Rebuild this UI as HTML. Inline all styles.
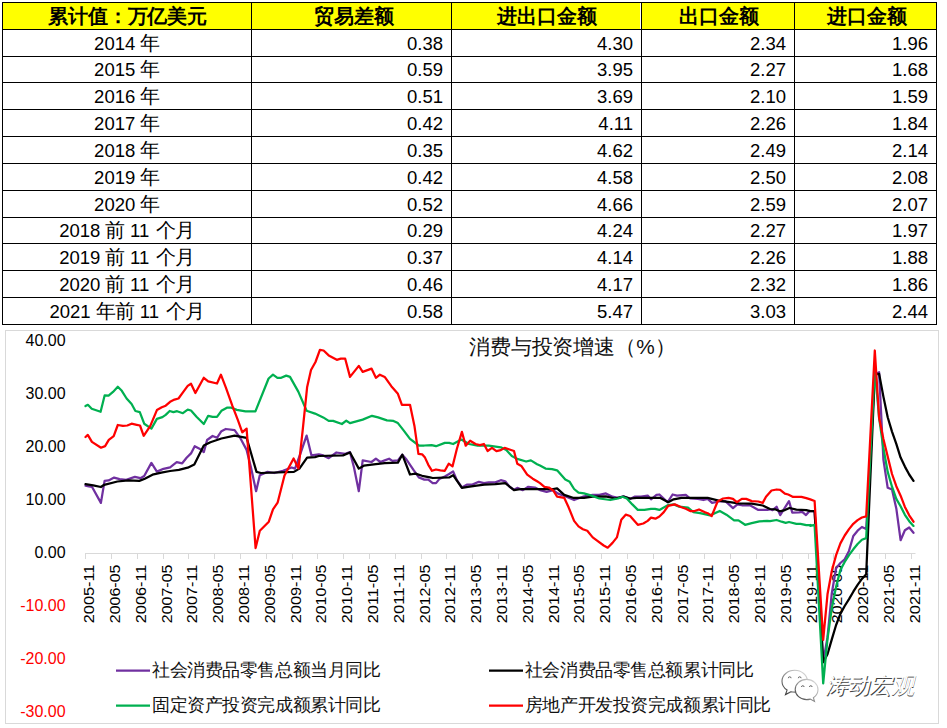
<!DOCTYPE html>
<html><head><meta charset="utf-8"><title>消费与投资增速</title>
<style>
html,body{margin:0;padding:0;background:#fff;}
body{width:947px;height:728px;position:relative;overflow:hidden;font-family:"Liberation Sans",sans-serif;}
.hl{position:absolute;height:1px;background:#000;}
.vl{position:absolute;width:1px;background:#000;}
svg{position:absolute;left:0;top:0;}
</style></head><body>

<div style="position:absolute;left:2px;top:2px;width:934px;height:27px;background:#ffff00"></div>
<div style="position:absolute;left:640px;top:3px;width:1px;height:26px;background:#fff"></div>
<div class="hl" style="left:2px;top:2px;width:935px"></div>
<div class="hl" style="left:2px;top:29px;width:935px"></div>
<div class="hl" style="left:2px;top:56px;width:935px"></div>
<div class="hl" style="left:2px;top:82px;width:935px"></div>
<div class="hl" style="left:2px;top:109px;width:935px"></div>
<div class="hl" style="left:2px;top:136px;width:935px"></div>
<div class="hl" style="left:2px;top:163px;width:935px"></div>
<div class="hl" style="left:2px;top:190px;width:935px"></div>
<div class="hl" style="left:2px;top:217px;width:935px"></div>
<div class="hl" style="left:2px;top:243px;width:935px"></div>
<div class="hl" style="left:2px;top:270px;width:935px"></div>
<div class="hl" style="left:2px;top:297px;width:935px"></div>
<div class="hl" style="left:2px;top:324px;width:935px"></div>
<div class="vl" style="left:2px;top:2px;height:323px"></div>
<div class="vl" style="left:251px;top:2px;height:323px"></div>
<div class="vl" style="left:451px;top:2px;height:323px"></div>
<div class="vl" style="left:641px;top:2px;height:323px"></div>
<div class="vl" style="left:794px;top:2px;height:323px"></div>
<div class="vl" style="left:936px;top:2px;height:323px"></div>
<svg width="947" height="330" viewBox="0 0 947 330" style="position:absolute;left:0;top:0">
<text x="48.00 67.88 87.75 107.62 127.50 147.38 167.25 187.12" y="23" font-weight="bold" font-size="20" fill="#000">累计值：万亿美元</text>
<text x="313.80 333.80 353.80 373.80" y="23" font-weight="bold" font-size="20" fill="#000">贸易差额</text>
<text x="497.30 517.30 537.30 557.30 577.30" y="23" font-weight="bold" font-size="20" fill="#000">进出口金额</text>
<text x="678.50 698.50 718.50 738.50" y="23" font-weight="bold" font-size="20" fill="#000">出口金额</text>
<text x="826.50 846.50 866.50 886.50" y="23" font-weight="bold" font-size="20" fill="#000">进口金额</text>
<text y="50" font-size="18.5" fill="#000"><tspan x="94.10">2014 </tspan><tspan x="140.40" font-size="19.5">年</tspan></text>
<text x="443" y="50" text-anchor="end" font-size="18.5" fill="#000">0.38</text>
<text x="633" y="50" text-anchor="end" font-size="18.5" fill="#000">4.30</text>
<text x="786" y="50" text-anchor="end" font-size="18.5" fill="#000">2.34</text>
<text x="928" y="50" text-anchor="end" font-size="18.5" fill="#000">1.96</text>
<text y="76" font-size="18.5" fill="#000"><tspan x="94.10">2015 </tspan><tspan x="140.40" font-size="19.5">年</tspan></text>
<text x="443" y="76" text-anchor="end" font-size="18.5" fill="#000">0.59</text>
<text x="633" y="76" text-anchor="end" font-size="18.5" fill="#000">3.95</text>
<text x="786" y="76" text-anchor="end" font-size="18.5" fill="#000">2.27</text>
<text x="928" y="76" text-anchor="end" font-size="18.5" fill="#000">1.68</text>
<text y="103" font-size="18.5" fill="#000"><tspan x="94.10">2016 </tspan><tspan x="140.40" font-size="19.5">年</tspan></text>
<text x="443" y="103" text-anchor="end" font-size="18.5" fill="#000">0.51</text>
<text x="633" y="103" text-anchor="end" font-size="18.5" fill="#000">3.69</text>
<text x="786" y="103" text-anchor="end" font-size="18.5" fill="#000">2.10</text>
<text x="928" y="103" text-anchor="end" font-size="18.5" fill="#000">1.59</text>
<text y="130" font-size="18.5" fill="#000"><tspan x="94.10">2017 </tspan><tspan x="140.40" font-size="19.5">年</tspan></text>
<text x="443" y="130" text-anchor="end" font-size="18.5" fill="#000">0.42</text>
<text x="633" y="130" text-anchor="end" font-size="18.5" fill="#000">4.11</text>
<text x="786" y="130" text-anchor="end" font-size="18.5" fill="#000">2.26</text>
<text x="928" y="130" text-anchor="end" font-size="18.5" fill="#000">1.84</text>
<text y="157" font-size="18.5" fill="#000"><tspan x="94.10">2018 </tspan><tspan x="140.40" font-size="19.5">年</tspan></text>
<text x="443" y="157" text-anchor="end" font-size="18.5" fill="#000">0.35</text>
<text x="633" y="157" text-anchor="end" font-size="18.5" fill="#000">4.62</text>
<text x="786" y="157" text-anchor="end" font-size="18.5" fill="#000">2.49</text>
<text x="928" y="157" text-anchor="end" font-size="18.5" fill="#000">2.14</text>
<text y="184" font-size="18.5" fill="#000"><tspan x="94.10">2019 </tspan><tspan x="140.40" font-size="19.5">年</tspan></text>
<text x="443" y="184" text-anchor="end" font-size="18.5" fill="#000">0.42</text>
<text x="633" y="184" text-anchor="end" font-size="18.5" fill="#000">4.58</text>
<text x="786" y="184" text-anchor="end" font-size="18.5" fill="#000">2.50</text>
<text x="928" y="184" text-anchor="end" font-size="18.5" fill="#000">2.08</text>
<text y="211" font-size="18.5" fill="#000"><tspan x="94.10">2020 </tspan><tspan x="140.40" font-size="19.5">年</tspan></text>
<text x="443" y="211" text-anchor="end" font-size="18.5" fill="#000">0.52</text>
<text x="633" y="211" text-anchor="end" font-size="18.5" fill="#000">4.66</text>
<text x="786" y="211" text-anchor="end" font-size="18.5" fill="#000">2.59</text>
<text x="928" y="211" text-anchor="end" font-size="18.5" fill="#000">2.07</text>
<text y="237" font-size="18.5" fill="#000"><tspan x="59.17">2018 </tspan><tspan x="105.47" font-size="19.5">前</tspan><tspan x="124.97"> 11 </tspan><tspan x="155.83 175.33" font-size="19.5">个月</tspan></text>
<text x="443" y="237" text-anchor="end" font-size="18.5" fill="#000">0.29</text>
<text x="633" y="237" text-anchor="end" font-size="18.5" fill="#000">4.24</text>
<text x="786" y="237" text-anchor="end" font-size="18.5" fill="#000">2.27</text>
<text x="928" y="237" text-anchor="end" font-size="18.5" fill="#000">1.97</text>
<text y="264" font-size="18.5" fill="#000"><tspan x="59.17">2019 </tspan><tspan x="105.47" font-size="19.5">前</tspan><tspan x="124.97"> 11 </tspan><tspan x="155.83 175.33" font-size="19.5">个月</tspan></text>
<text x="443" y="264" text-anchor="end" font-size="18.5" fill="#000">0.37</text>
<text x="633" y="264" text-anchor="end" font-size="18.5" fill="#000">4.14</text>
<text x="786" y="264" text-anchor="end" font-size="18.5" fill="#000">2.26</text>
<text x="928" y="264" text-anchor="end" font-size="18.5" fill="#000">1.88</text>
<text y="291" font-size="18.5" fill="#000"><tspan x="59.17">2020 </tspan><tspan x="105.47" font-size="19.5">前</tspan><tspan x="124.97"> 11 </tspan><tspan x="155.83 175.33" font-size="19.5">个月</tspan></text>
<text x="443" y="291" text-anchor="end" font-size="18.5" fill="#000">0.46</text>
<text x="633" y="291" text-anchor="end" font-size="18.5" fill="#000">4.17</text>
<text x="786" y="291" text-anchor="end" font-size="18.5" fill="#000">2.32</text>
<text x="928" y="291" text-anchor="end" font-size="18.5" fill="#000">1.86</text>
<text y="318" font-size="18.5" fill="#000"><tspan x="49.42">2021 </tspan><tspan x="95.72 115.22" font-size="19.5">年前</tspan><tspan x="134.72"> 11 </tspan><tspan x="165.58 185.08" font-size="19.5">个月</tspan></text>
<text x="443" y="318" text-anchor="end" font-size="18.5" fill="#000">0.58</text>
<text x="633" y="318" text-anchor="end" font-size="18.5" fill="#000">5.47</text>
<text x="786" y="318" text-anchor="end" font-size="18.5" fill="#000">3.03</text>
<text x="928" y="318" text-anchor="end" font-size="18.5" fill="#000">2.44</text>
</svg>
<svg width="947" height="728" viewBox="0 0 947 728">
<rect x="5.5" y="330.5" width="933" height="393" fill="#fff" stroke="#d9d9d9" stroke-width="1"/>
<text x="469.2 490.0 510.8 531.6 552.4 573.2 594.0 614.8 636.3 655.0" y="354" font-size="20.8" fill="#111">消费与投资增速（%）</text>
<text x="65.6" y="345.85" text-anchor="end" font-size="16" fill="#000">40.00</text>
<text x="65.6" y="398.85" text-anchor="end" font-size="16" fill="#000">30.00</text>
<text x="65.6" y="451.85" text-anchor="end" font-size="16" fill="#000">20.00</text>
<text x="65.6" y="504.85" text-anchor="end" font-size="16" fill="#000">10.00</text>
<text x="65.6" y="557.85" text-anchor="end" font-size="16" fill="#000">0.00</text>
<text x="65.6" y="610.85" text-anchor="end" font-size="16" fill="#ff0000">-10.00</text>
<text x="65.6" y="663.85" text-anchor="end" font-size="16" fill="#ff0000">-20.00</text>
<text x="65.6" y="716.85" text-anchor="end" font-size="16" fill="#ff0000">-30.00</text>
<line x1="85" y1="553.5" x2="915.5" y2="553.5" stroke="#d9d9d9" stroke-width="1"/>
<line x1="85.5" y1="553" x2="85.5" y2="559" stroke="#d9d9d9" stroke-width="1"/>
<text transform="translate(94.1,564.6) rotate(-90)" text-anchor="end" font-size="14.9" fill="#000" textLength="58.6" lengthAdjust="spacingAndGlyphs">2005-11</text>
<line x1="111.5" y1="553" x2="111.5" y2="559" stroke="#d9d9d9" stroke-width="1"/>
<text transform="translate(119.9,564.6) rotate(-90)" text-anchor="end" font-size="14.9" fill="#000" textLength="58.6" lengthAdjust="spacingAndGlyphs">2006-05</text>
<line x1="137.5" y1="553" x2="137.5" y2="559" stroke="#d9d9d9" stroke-width="1"/>
<text transform="translate(145.7,564.6) rotate(-90)" text-anchor="end" font-size="14.9" fill="#000" textLength="58.6" lengthAdjust="spacingAndGlyphs">2006-11</text>
<line x1="163.5" y1="553" x2="163.5" y2="559" stroke="#d9d9d9" stroke-width="1"/>
<text transform="translate(171.5,564.6) rotate(-90)" text-anchor="end" font-size="14.9" fill="#000" textLength="58.6" lengthAdjust="spacingAndGlyphs">2007-05</text>
<line x1="188.5" y1="553" x2="188.5" y2="559" stroke="#d9d9d9" stroke-width="1"/>
<text transform="translate(197.3,564.6) rotate(-90)" text-anchor="end" font-size="14.9" fill="#000" textLength="58.6" lengthAdjust="spacingAndGlyphs">2007-11</text>
<line x1="214.5" y1="553" x2="214.5" y2="559" stroke="#d9d9d9" stroke-width="1"/>
<text transform="translate(223.1,564.6) rotate(-90)" text-anchor="end" font-size="14.9" fill="#000" textLength="58.6" lengthAdjust="spacingAndGlyphs">2008-05</text>
<line x1="240.5" y1="553" x2="240.5" y2="559" stroke="#d9d9d9" stroke-width="1"/>
<text transform="translate(248.9,564.6) rotate(-90)" text-anchor="end" font-size="14.9" fill="#000" textLength="58.6" lengthAdjust="spacingAndGlyphs">2008-11</text>
<line x1="266.5" y1="553" x2="266.5" y2="559" stroke="#d9d9d9" stroke-width="1"/>
<text transform="translate(274.7,564.6) rotate(-90)" text-anchor="end" font-size="14.9" fill="#000" textLength="58.6" lengthAdjust="spacingAndGlyphs">2009-05</text>
<line x1="292.5" y1="553" x2="292.5" y2="559" stroke="#d9d9d9" stroke-width="1"/>
<text transform="translate(300.5,564.6) rotate(-90)" text-anchor="end" font-size="14.9" fill="#000" textLength="58.6" lengthAdjust="spacingAndGlyphs">2009-11</text>
<line x1="317.5" y1="553" x2="317.5" y2="559" stroke="#d9d9d9" stroke-width="1"/>
<text transform="translate(326.3,564.6) rotate(-90)" text-anchor="end" font-size="14.9" fill="#000" textLength="58.6" lengthAdjust="spacingAndGlyphs">2010-05</text>
<line x1="343.5" y1="553" x2="343.5" y2="559" stroke="#d9d9d9" stroke-width="1"/>
<text transform="translate(352.1,564.6) rotate(-90)" text-anchor="end" font-size="14.9" fill="#000" textLength="58.6" lengthAdjust="spacingAndGlyphs">2010-11</text>
<line x1="369.5" y1="553" x2="369.5" y2="559" stroke="#d9d9d9" stroke-width="1"/>
<text transform="translate(377.9,564.6) rotate(-90)" text-anchor="end" font-size="14.9" fill="#000" textLength="58.6" lengthAdjust="spacingAndGlyphs">2011-05</text>
<line x1="395.5" y1="553" x2="395.5" y2="559" stroke="#d9d9d9" stroke-width="1"/>
<text transform="translate(403.7,564.6) rotate(-90)" text-anchor="end" font-size="14.9" fill="#000" textLength="58.6" lengthAdjust="spacingAndGlyphs">2011-11</text>
<line x1="421.5" y1="553" x2="421.5" y2="559" stroke="#d9d9d9" stroke-width="1"/>
<text transform="translate(429.5,564.6) rotate(-90)" text-anchor="end" font-size="14.9" fill="#000" textLength="58.6" lengthAdjust="spacingAndGlyphs">2012-05</text>
<line x1="446.5" y1="553" x2="446.5" y2="559" stroke="#d9d9d9" stroke-width="1"/>
<text transform="translate(455.3,564.6) rotate(-90)" text-anchor="end" font-size="14.9" fill="#000" textLength="58.6" lengthAdjust="spacingAndGlyphs">2012-11</text>
<line x1="472.5" y1="553" x2="472.5" y2="559" stroke="#d9d9d9" stroke-width="1"/>
<text transform="translate(481.1,564.6) rotate(-90)" text-anchor="end" font-size="14.9" fill="#000" textLength="58.6" lengthAdjust="spacingAndGlyphs">2013-05</text>
<line x1="498.5" y1="553" x2="498.5" y2="559" stroke="#d9d9d9" stroke-width="1"/>
<text transform="translate(506.9,564.6) rotate(-90)" text-anchor="end" font-size="14.9" fill="#000" textLength="58.6" lengthAdjust="spacingAndGlyphs">2013-11</text>
<line x1="524.5" y1="553" x2="524.5" y2="559" stroke="#d9d9d9" stroke-width="1"/>
<text transform="translate(532.7,564.6) rotate(-90)" text-anchor="end" font-size="14.9" fill="#000" textLength="58.6" lengthAdjust="spacingAndGlyphs">2014-05</text>
<line x1="550.5" y1="553" x2="550.5" y2="559" stroke="#d9d9d9" stroke-width="1"/>
<text transform="translate(558.5,564.6) rotate(-90)" text-anchor="end" font-size="14.9" fill="#000" textLength="58.6" lengthAdjust="spacingAndGlyphs">2014-11</text>
<line x1="575.5" y1="553" x2="575.5" y2="559" stroke="#d9d9d9" stroke-width="1"/>
<text transform="translate(584.3,564.6) rotate(-90)" text-anchor="end" font-size="14.9" fill="#000" textLength="58.6" lengthAdjust="spacingAndGlyphs">2015-05</text>
<line x1="601.5" y1="553" x2="601.5" y2="559" stroke="#d9d9d9" stroke-width="1"/>
<text transform="translate(610.1,564.6) rotate(-90)" text-anchor="end" font-size="14.9" fill="#000" textLength="58.6" lengthAdjust="spacingAndGlyphs">2015-11</text>
<line x1="627.5" y1="553" x2="627.5" y2="559" stroke="#d9d9d9" stroke-width="1"/>
<text transform="translate(635.9,564.6) rotate(-90)" text-anchor="end" font-size="14.9" fill="#000" textLength="58.6" lengthAdjust="spacingAndGlyphs">2016-05</text>
<line x1="653.5" y1="553" x2="653.5" y2="559" stroke="#d9d9d9" stroke-width="1"/>
<text transform="translate(661.7,564.6) rotate(-90)" text-anchor="end" font-size="14.9" fill="#000" textLength="58.6" lengthAdjust="spacingAndGlyphs">2016-11</text>
<line x1="679.5" y1="553" x2="679.5" y2="559" stroke="#d9d9d9" stroke-width="1"/>
<text transform="translate(687.5,564.6) rotate(-90)" text-anchor="end" font-size="14.9" fill="#000" textLength="58.6" lengthAdjust="spacingAndGlyphs">2017-05</text>
<line x1="704.5" y1="553" x2="704.5" y2="559" stroke="#d9d9d9" stroke-width="1"/>
<text transform="translate(713.3,564.6) rotate(-90)" text-anchor="end" font-size="14.9" fill="#000" textLength="58.6" lengthAdjust="spacingAndGlyphs">2017-11</text>
<line x1="730.5" y1="553" x2="730.5" y2="559" stroke="#d9d9d9" stroke-width="1"/>
<text transform="translate(739.1,564.6) rotate(-90)" text-anchor="end" font-size="14.9" fill="#000" textLength="58.6" lengthAdjust="spacingAndGlyphs">2018-05</text>
<line x1="756.5" y1="553" x2="756.5" y2="559" stroke="#d9d9d9" stroke-width="1"/>
<text transform="translate(764.9,564.6) rotate(-90)" text-anchor="end" font-size="14.9" fill="#000" textLength="58.6" lengthAdjust="spacingAndGlyphs">2018-11</text>
<line x1="782.5" y1="553" x2="782.5" y2="559" stroke="#d9d9d9" stroke-width="1"/>
<text transform="translate(790.7,564.6) rotate(-90)" text-anchor="end" font-size="14.9" fill="#000" textLength="58.6" lengthAdjust="spacingAndGlyphs">2019-05</text>
<line x1="808.5" y1="553" x2="808.5" y2="559" stroke="#d9d9d9" stroke-width="1"/>
<text transform="translate(816.5,564.6) rotate(-90)" text-anchor="end" font-size="14.9" fill="#000" textLength="58.6" lengthAdjust="spacingAndGlyphs">2019-11</text>
<line x1="833.5" y1="553" x2="833.5" y2="559" stroke="#d9d9d9" stroke-width="1"/>
<text transform="translate(842.3,564.6) rotate(-90)" text-anchor="end" font-size="14.9" fill="#000" textLength="58.6" lengthAdjust="spacingAndGlyphs">2020-05</text>
<line x1="859.5" y1="553" x2="859.5" y2="559" stroke="#d9d9d9" stroke-width="1"/>
<text transform="translate(868.1,564.6) rotate(-90)" text-anchor="end" font-size="14.9" fill="#000" textLength="58.6" lengthAdjust="spacingAndGlyphs">2020-11</text>
<line x1="885.5" y1="553" x2="885.5" y2="559" stroke="#d9d9d9" stroke-width="1"/>
<text transform="translate(893.9,564.6) rotate(-90)" text-anchor="end" font-size="14.9" fill="#000" textLength="58.6" lengthAdjust="spacingAndGlyphs">2021-05</text>
<line x1="911.5" y1="553" x2="911.5" y2="559" stroke="#d9d9d9" stroke-width="1"/>
<text transform="translate(919.7,564.6) rotate(-90)" text-anchor="end" font-size="14.9" fill="#000" textLength="58.6" lengthAdjust="spacingAndGlyphs">2021-11</text>
<polyline points="85.5,485.7 88.8,486.4 92.1,487.0 100.9,502.9 104.6,480.9 108.6,480.4 114.1,477.6 119.6,479.1 126.2,479.8 134.9,476.9 140.4,478.2 144.2,476.0 151.4,462.9 156.9,471.6 163.5,468.8 170.1,467.3 176.7,462.2 182.2,463.3 186.6,457.8 191.0,453.4 194.7,446.2 200.0,449.0 203.8,452.1 207.1,440.0 212.6,436.0 217.0,437.8 221.4,431.2 225.8,429.0 234.6,430.1 240.1,437.8 246.6,449.9 251.0,467.5 256.1,491.2 259.8,475.2 267.5,471.9 274.1,473.0 282.9,470.8 291.7,467.5 295.0,468.6 299.4,456.5 306.6,435.6 311.5,455.4 318.8,454.3 323.2,455.4 328.7,458.2 336.4,452.5 345.2,453.8 350.0,452.1 354.0,467.5 358.8,491.2 362.7,460.4 371.5,462.0 375.9,458.7 380.3,462.0 384.7,460.4 389.1,458.7 392.4,460.9 397.9,460.4 402.3,454.7 406.7,459.8 413.3,469.7 418.8,477.4 424.3,479.6 428.3,479.6 432.7,483.1 436.0,483.1 439.3,479.1 444.8,476.5 448.7,474.3 453.1,471.4 456.9,480.2 461.9,487.5 466.8,484.6 472.3,484.6 478.8,481.8 483.9,483.1 488.7,482.4 495.3,482.4 500.8,480.2 505.2,481.3 509.6,486.8 514.0,489.7 517.3,487.9 522.8,490.1 528.3,486.8 534.9,487.5 540.0,490.1 546.6,491.9 553.2,490.1 557.6,493.4 566.4,496.7 574.1,500.0 582.9,496.7 592.7,494.9 599.3,494.9 605.9,493.4 612.5,496.7 618.0,497.8 623.5,496.3 630.1,498.9 634.5,496.7 641.1,496.7 647.7,495.6 651.0,499.3 656.5,494.9 659.4,494.5 667.7,502.2 672.6,494.5 677.0,495.6 685.8,494.9 690.2,498.5 697.9,498.9 703.4,500.0 707.7,498.9 712.1,502.9 718.7,501.5 725.3,501.1 733.0,508.1 737.4,504.4 742.9,505.5 749.5,505.1 758.3,509.9 767.1,509.9 770.0,509.3 772.5,510.1 776.6,506.8 780.2,515.1 784.9,507.7 789.0,501.1 792.3,512.6 798.9,512.3 802.2,511.8 806.0,515.1 809.6,511.0 810.3,511.1 814.6,511.1 823.2,662.1 827.5,637.2 831.8,593.2 836.1,568.3 840.4,563.0 844.7,559.3 849.0,550.9 853.3,536.0 857.6,530.7 861.9,527.0 866.2,529.1 874.8,374.4 879.1,372.2 883.4,459.7 887.7,487.8 892.0,489.4 896.3,508.4 900.6,540.2 904.9,530.2 909.2,527.5 913.5,532.8" fill="none" stroke="#7030a0" stroke-width="2.25" stroke-linejoin="round" stroke-linecap="round"/>
<polyline points="85.5,484.2 93.2,485.3 100.9,487.0 104.2,484.8 117.4,481.5 128.4,480.4 139.3,480.9 144.8,478.7 152.5,474.7 161.3,472.7 170.1,471.0 178.9,469.9 187.7,467.7 194.3,464.4 203.8,445.5 210.4,442.2 221.4,438.5 234.6,435.6 246.6,437.8 256.5,471.9 260.9,473.0 293.9,471.9 299.4,468.6 307.1,457.6 315.0,457.1 318.8,456.0 343.0,455.4 350.0,452.5 358.8,468.6 363.8,465.7 375.9,464.2 384.7,463.1 397.9,462.6 402.3,454.7 410.0,474.5 415.5,473.6 422.1,475.8 430.0,477.4 432.7,478.0 449.2,477.4 453.1,475.2 461.9,487.9 467.9,486.8 476.6,485.7 484.3,484.6 495.3,484.2 505.2,483.1 514.0,490.1 521.7,489.0 532.7,489.0 545.0,489.0 553.2,489.0 557.1,488.4 564.2,494.9 573.0,497.8 584.0,497.8 592.7,496.7 605.9,496.3 614.7,498.5 623.5,496.7 630.1,498.5 636.7,497.8 660.0,497.8 668.2,502.2 673.7,499.3 681.4,497.8 707.7,497.8 718.7,500.7 729.7,502.2 738.5,503.3 751.7,503.7 762.7,505.5 770.0,509.0 775.0,509.3 779.9,511.3 784.9,510.1 789.5,508.0 796.4,509.6 806.3,510.1 810.3,511.1 814.6,511.1 823.2,662.1 827.5,654.2 831.8,639.4 836.1,625.0 840.4,613.9 844.7,606.0 849.0,599.1 853.3,591.7 857.6,584.8 861.9,578.9 866.2,574.2 874.8,374.4 879.1,373.8 883.4,396.6 887.7,417.3 892.0,431.6 896.3,443.8 900.6,457.6 904.9,466.6 909.2,474.5 913.5,480.9" fill="none" stroke="#000000" stroke-width="2.25" stroke-linejoin="round" stroke-linecap="round"/>
<polyline points="85.5,406.1 87.9,404.8 91.7,408.7 100.6,411.8 104.7,395.3 108.6,395.6 113.0,391.9 117.8,386.8 121.8,390.8 126.6,398.5 131.6,404.0 135.4,411.0 139.8,412.1 144.2,423.7 151.4,428.6 156.9,418.9 162.4,417.1 165.7,414.9 169.7,411.0 173.4,412.1 177.1,411.2 182.9,413.2 187.7,409.7 191.0,410.5 196.5,416.7 203.8,424.0 208.2,415.8 212.6,416.9 217.0,416.9 221.4,410.8 226.9,407.7 231.3,407.7 236.8,409.9 245.5,411.4 255.4,411.4 268.6,378.5 273.0,374.7 277.4,377.8 281.2,377.8 286.2,375.6 290.0,376.9 298.3,391.6 306.6,410.8 315.0,413.6 323.2,417.4 328.7,420.9 333.1,420.9 341.9,424.0 346.3,420.7 350.0,423.1 362.7,419.6 372.0,415.8 378.1,417.4 386.9,420.4 393.5,420.9 397.9,423.1 403.4,430.1 410.0,438.9 418.8,445.5 424.3,445.5 431.6,445.1 436.0,446.2 444.8,442.9 449.2,442.9 453.1,444.0 461.3,439.6 469.0,444.0 477.7,445.7 488.7,445.7 500.8,447.3 506.3,450.1 511.8,456.0 517.3,458.9 526.1,461.5 530.9,460.4 537.1,464.2 540.0,465.5 545.5,468.6 552.1,469.2 557.1,470.3 565.3,479.6 569.7,481.8 574.1,489.0 578.5,492.7 584.0,493.4 591.6,495.6 599.3,498.5 610.3,500.0 618.0,498.5 622.4,496.7 626.8,498.5 632.3,504.4 637.8,509.9 644.4,509.9 651.0,508.8 655.0,508.8 659.4,509.9 668.2,505.1 673.7,504.4 679.2,506.6 688.0,507.7 693.5,512.1 700.1,513.2 710.0,515.4 719.8,511.0 726.4,514.7 734.1,520.4 738.5,520.4 745.1,524.8 751.7,523.1 759.4,521.3 767.1,520.9 770.0,521.2 776.6,520.0 781.6,521.7 785.7,522.8 789.0,522.0 796.4,523.8 800.5,523.8 806.3,525.1 810.4,525.0 810.3,525.9 814.6,524.9 823.2,683.4 827.5,638.8 831.8,608.1 836.1,586.9 840.4,569.9 844.7,562.0 849.0,555.1 853.3,549.3 857.6,544.0 861.9,539.7 866.2,538.1 874.8,368.0 879.1,417.8 883.4,448.0 887.7,471.9 892.0,486.7 896.3,498.9 900.6,506.3 904.9,514.8 909.2,521.2 913.5,525.9" fill="none" stroke="#00b050" stroke-width="2.25" stroke-linejoin="round" stroke-linecap="round"/>
<polyline points="85.5,437.0 87.8,434.9 91.9,441.9 101.0,447.7 105.1,446.1 108.8,439.9 113.7,436.2 117.8,425.0 122.9,425.9 127.3,425.5 131.6,423.7 136.7,424.8 140.0,425.5 143.7,435.8 150.3,425.9 156.9,410.1 161.8,407.3 165.7,405.7 170.1,401.8 174.5,399.6 178.5,398.5 183.3,391.9 187.7,385.9 191.0,383.7 195.4,393.0 203.8,377.8 208.2,381.3 217.0,383.5 220.9,374.7 225.8,387.3 232.4,405.9 237.9,420.2 242.3,432.3 246.6,428.6 255.6,548.1 259.8,530.8 268.8,521.7 273.0,509.3 277.6,502.7 284.5,475.5 293.6,458.5 298.5,468.4 302.7,430.1 307.1,387.3 311.0,370.0 315.5,362.0 319.9,349.9 323.6,350.5 328.7,355.4 336.8,359.8 340.8,358.7 345.2,358.7 350.0,376.9 358.8,365.9 362.7,371.9 371.5,368.6 375.9,377.8 379.9,374.7 384.7,376.9 391.3,386.2 397.9,393.8 401.9,404.8 410.0,404.8 414.4,425.7 418.4,453.8 422.1,454.3 425.0,457.6 428.3,464.8 432.0,470.8 436.0,469.5 440.4,470.3 444.8,470.8 448.7,463.7 452.5,466.4 456.9,448.8 461.9,431.9 465.7,445.7 470.1,440.7 475.5,444.0 479.9,445.1 483.9,444.0 487.6,451.0 492.0,447.9 496.4,451.2 500.8,450.1 504.6,447.9 509.6,449.5 514.0,451.0 517.3,463.7 521.3,465.9 527.2,474.7 532.7,478.7 537.1,481.3 540.0,483.1 544.4,486.8 548.8,487.5 553.2,490.5 557.1,496.7 564.2,497.8 568.6,507.3 574.1,520.9 578.5,526.4 582.9,529.2 587.3,530.8 592.7,537.4 597.1,540.7 603.7,545.5 607.7,547.7 612.5,542.9 616.9,537.4 621.3,519.8 625.7,514.7 630.1,516.0 637.8,524.8 643.3,523.5 647.7,520.9 651.0,517.6 655.4,518.7 659.4,516.5 663.8,512.1 668.2,505.9 674.8,504.4 681.4,507.3 685.8,508.8 690.2,511.0 694.6,511.0 699.0,509.5 704.5,512.1 707.7,513.2 711.7,516.0 717.6,501.5 723.1,498.5 728.6,497.8 733.0,498.9 736.8,502.2 741.8,498.9 746.2,498.9 751.7,501.1 758.3,501.5 762.7,502.9 766.0,496.7 771.5,490.5 776.6,489.5 780.2,489.8 784.9,493.6 788.2,494.5 793.1,496.9 801.4,496.9 806.3,498.1 810.3,499.4 814.6,501.0 823.2,639.9 827.5,594.3 831.8,571.0 836.1,555.1 840.4,543.4 844.7,535.5 849.0,529.1 853.3,523.8 857.6,520.1 861.9,517.5 866.2,516.4 874.8,350.5 879.1,417.8 883.4,439.0 887.7,456.5 892.0,474.0 896.3,486.2 900.6,495.7 904.9,506.9 909.2,515.3 913.5,521.7" fill="none" stroke="#ff0000" stroke-width="2.25" stroke-linejoin="round" stroke-linecap="round"/>
<line x1="116" y1="670.5" x2="150" y2="670.5" stroke="#7030a0" stroke-width="2.25"/>
<text x="152.00 169.57 187.14 204.71 222.28 239.85 257.42 274.99 292.56 310.13 327.70 345.27 362.84" y="675.9" font-size="17.6" fill="#111">社会消费品零售总额当月同比</text>
<line x1="489" y1="670.5" x2="523" y2="670.5" stroke="#000000" stroke-width="2.25"/>
<text x="524.90 542.47 560.04 577.61 595.18 612.75 630.32 647.89 665.46 683.03 700.60 718.17 735.74" y="675.9" font-size="17.6" fill="#111">社会消费品零售总额累计同比</text>
<line x1="116" y1="705.5" x2="150" y2="705.5" stroke="#00b050" stroke-width="2.25"/>
<text x="152.00 169.57 187.14 204.71 222.28 239.85 257.42 274.99 292.56 310.13 327.70 345.27 362.84" y="710.9" font-size="17.6" fill="#111">固定资产投资完成额累计同比</text>
<line x1="489" y1="705.5" x2="523" y2="705.5" stroke="#ff0000" stroke-width="2.25"/>
<text x="524.90 542.47 560.04 577.61 595.18 612.75 630.32 647.89 665.46 683.03 700.60 718.17 735.74 753.31" y="710.9" font-size="17.6" fill="#111">房地产开发投资完成额累计同比</text>
<defs><linearGradient id="wg" x1="1" y1="0" x2="0" y2="1"><stop offset="0" stop-color="#e6e6e6"/><stop offset="0.5" stop-color="#9a9a9a"/><stop offset="1" stop-color="#2a2a2a"/></linearGradient></defs>
<g fill="#fff" stroke="url(#wg)" stroke-width="1.1">
<path d="M794.7,670.3 c-7,0 -12.7,4.9 -12.7,10.9 c0,3.6 2,6.8 5.1,8.8 l-1.6,4.6 l5.6,-2.9 c1.1,0.3 2.3,0.4 3.6,0.4 c7,0 12.7,-4.9 12.7,-10.9 c0,-6 -5.7,-10.9 -12.7,-10.9z"/>
<path d="M806.6,679.4 c-6.3,0 -11.4,4.5 -11.4,10.1 c0,5.6 5.1,10.1 11.4,10.1 c1.3,0 2.5,-0.2 3.7,-0.5 l4.2,2.3 l-1.1,-3.7 c2.8,-1.8 4.6,-4.8 4.6,-8.2 c0,-5.6 -5.1,-10.1 -11.4,-10.1z"/>
</g>
<g fill="none" stroke="#555" stroke-width="0.9"><path d="M788.3,678.2 a1.4,1.4 0 0 1 2.8,0 M798.3,678.2 a1.4,1.4 0 0 1 2.8,0 M801.5,687 a1.3,1.3 0 0 1 2.6,0 M809.5,687 a1.3,1.3 0 0 1 2.6,0"/></g>
<g transform="translate(825,693) skewX(-14)">
<text x="0.9 23.15 45.4 67.65" y="0.9" font-size="22.5" fill="#444">涛动宏观</text>
<text x="0 22.25 44.5 66.75" y="0" font-size="22.5" fill="#fff">涛动宏观</text>
</g>
</svg>
</body></html>
